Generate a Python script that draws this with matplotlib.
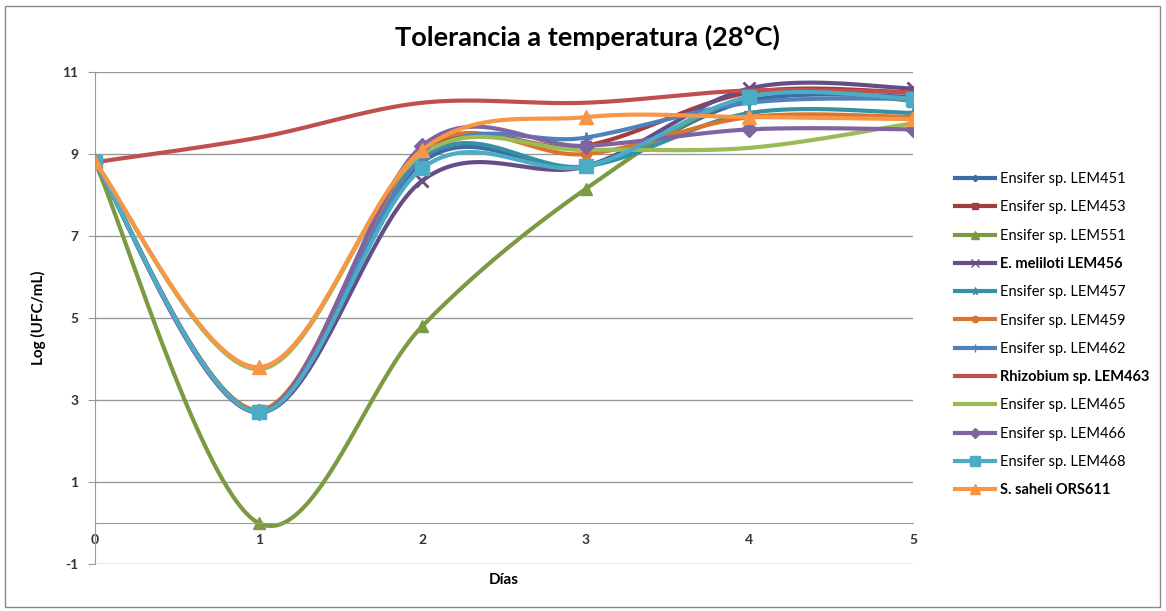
import numpy as np
import matplotlib
matplotlib.use('Agg')
import matplotlib.pyplot as plt
from matplotlib.lines import Line2D
from matplotlib.patches import Rectangle

plt.rcParams['font.family'] = ['Lato', 'DejaVu Sans']
plt.rcParams['axes.unicode_minus'] = False

days = [0, 1, 2, 3, 4, 5]

strains = ['Ensifer sp. LEM451', 'Ensifer sp. LEM453', 'Ensifer sp. LEM551',
           'E. meliloti LEM456', 'Ensifer sp. LEM457', 'Ensifer sp. LEM459',
           'Ensifer sp. LEM462', 'Rhizobium sp. LEM463', 'Ensifer sp. LEM465',
           'Ensifer sp. LEM466', 'Ensifer sp. LEM468', 'S. saheli ORS611']

lem451 = [8.8, 2.7, 8.8, 8.7, 10.3, 10.4]
lem453 = [8.8, 2.75, 9.0, 9.2, 10.5, 10.5]
lem551 = [8.8, 0.0, 4.8, 8.15, 10.4, 10.3]
lem456 = [8.8, 2.7, 8.35, 8.7, 10.6, 10.6]
lem457 = [8.8, 2.7, 8.9, 8.7, 10.0, 10.0]
lem459 = [8.8, 2.75, 9.1, 9.0, 9.9, 9.9]
lem462 = [8.8, 2.7, 8.9, 9.4, 10.25, 10.35]
lem463 = [8.8, 9.4, 10.25, 10.25, 10.55, 10.5]
lem465 = [8.8, 3.75, 9.0, 9.1, 9.15, 9.75]
lem466 = [8.8, 2.7, 9.2, 9.2, 9.6, 9.6]
lem468 = [8.8, 2.7, 8.65, 8.7, 10.4, 10.35]
ors611 = [8.8, 3.8, 9.1, 9.9, 9.9, 9.85]

series = [lem451, lem453, lem551, lem456, lem457, lem459,
          lem462, lem463, lem465, lem466, lem468, ors611]

colors = ['#3D6BA3', '#A53E3B', '#7B9A42', '#654E86', '#3592A6', '#DD7528',
          '#4F81BD', '#C0504D', '#9BBB59', '#8064A2', '#4BACC6', '#F79646']
markers = ['D', 's', '^', 'x', '*', 'o', '+', None, None, 'D', 's', '^']
msizes = [5, 7, 9, 8, 8, 7, 9, 0, 0, 8, 10, 10]
bold = [False, False, False, True, False, False, False, True, False, False, False, True]


def smooth(x, y, n=40):
    # Catmull-Rom style cubic Bezier through the points
    p = np.column_stack([x, y]).astype(float)
    out = [p[0]]
    t = np.linspace(0, 1, n)[1:, None]
    for i in range(len(p) - 1):
        p0 = p[i - 1] if i > 0 else p[i]
        p3 = p[i + 2] if i + 2 < len(p) else p[i + 1]
        c1 = p[i] + (p[i + 1] - p0) / 6
        c2 = p[i + 1] - (p3 - p[i]) / 6
        seg = ((1 - t) ** 3) * p[i] + 3 * ((1 - t) ** 2) * t * c1 \
            + 3 * (1 - t) * t ** 2 * c2 + t ** 3 * p[i + 1]
        out.extend(seg)
    out = np.array(out)
    return out[:, 0], out[:, 1]


fig = plt.figure(figsize=(11.66, 6.11), dpi=100)
ax = fig.add_axes([95 / 1166, 1 - 564 / 611, (913 - 95) / 1166, (564 - 72) / 611])

handles = []
for vals, c, m, ms in zip(series, colors, markers, msizes):
    sx, sy = smooth(days, vals)
    ax.plot(sx, sy, color=c, lw=3, solid_capstyle='round')
    if m is not None:
        mew = 2 if m in ('x', '+') else 1
        ax.plot(days, vals, ls='none', marker=m, ms=ms, color=c, mew=mew)
    handles.append(Line2D([], [], color=c, lw=3, marker=m, ms=ms * 0.65))

ax.set_xlim(0, 5)
ax.set_ylim(-1, 11)
ax.set_yticks([-1, 1, 3, 5, 7, 9, 11])
ax.set_xticks(days)
ax.grid(axis='y', color='#999999', lw=1)
ax.set_axisbelow(True)

for s in ['top', 'right']:
    ax.spines[s].set_visible(False)
ax.spines['bottom'].set_position(('data', 0))
ax.spines['bottom'].set_color('#999999')
ax.spines['left'].set_color('#999999')
ax.tick_params(axis='y', length=5, color='#999999', labelsize=10, pad=7)
ax.tick_params(axis='x', length=0, labelsize=10, pad=8)
for lbl in ax.get_xticklabels() + ax.get_yticklabels():
    lbl.set_fontweight('bold')
    lbl.set_color('#333333')

fig.text(504 / 1166, 1 - 580 / 611, 'Días', ha='center', va='center',
         fontsize=11, fontweight='bold')
ax.set_ylabel('Log (UFC/mL)', fontsize=11, fontweight='bold', labelpad=12)
fig.text(587 / 1166, 1 - 37 / 611, 'Tolerancia a temperatura (28°C)',
         ha='center', va='center', fontsize=19.5, fontweight='bold')

leg = fig.legend(handles, strains, loc='upper left',
                 bbox_to_anchor=(942 / 1166, 1 - 159 / 611), frameon=False,
                 fontsize=10.5, handlelength=2.7, labelspacing=0.98,
                 handletextpad=0.4)
for txt, b in zip(leg.get_texts(), bold):
    if b:
        txt.set_fontweight('bold')

fig.patches.append(Rectangle((5 / 1166, 4 / 611), 1155 / 1166, 601 / 611,
                             transform=fig.transFigure, fill=False,
                             edgecolor='#888888', lw=1))

fig.savefig('out.png', dpi=100)
